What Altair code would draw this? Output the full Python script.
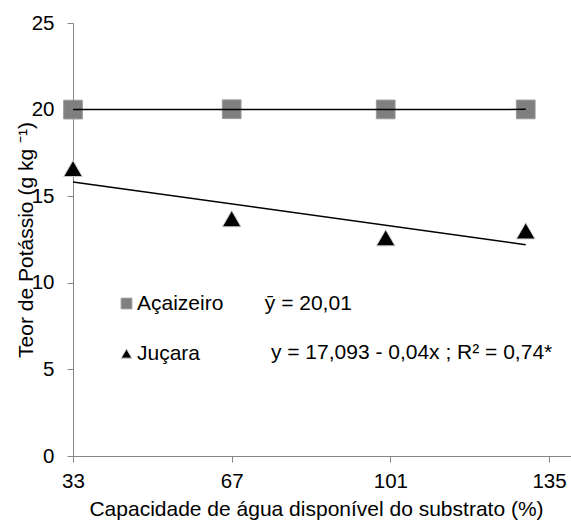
import altair as alt
import pandas as pd

# Potassium content per substrate water capacity, two palm species
capacidade = [33, 67, 100, 130]
acaizeiro = [20.0, 20.02, 20.01, 20.01]
jucara = [16.6, 13.7, 12.6, 13.0]
series = ["Açaizeiro", "Juçara"]

x_ticks = [33, 67, 101, 135]
y_ticks = [0, 5, 10, 15, 20, 25]

# Fitted-equation annotations (data coordinates of each text's left baseline)
eq_labels = ["ȳ = 20,01", "y = 17,093 - 0,04x ; R² = 0,74*"]
eq_x = [74.1, 75.4]
eq_y = [8.43, 5.6]

FONT = "Liberation Sans, Arial, sans-serif"
AXIS_GRAY = "#868686"

df = pd.DataFrame({
    "capacidade": capacidade * 2,
    "teor": acaizeiro + jucara,
    "serie": [series[0]] * len(capacidade) + [series[1]] * len(capacidade),
})
eq_df = pd.DataFrame({"x": eq_x, "y": eq_y, "label": eq_labels})

x_scale = alt.Scale(domain=[33, 139.7], nice=False, zero=False)
y_scale = alt.Scale(domain=[0, 25], nice=False, zero=True)

legend = alt.Legend(
    title=None,
    orient="none",
    legendX=43,
    legendY=270,
    padding=0,
    labelFont=FONT,
    labelFontSize=21,
    labelColor="black",
    labelOffset=0,
    symbolSize=115,
    symbolStrokeWidth=1,
    rowPadding=28,
)

points = alt.Chart(df).mark_point(filled=True, opacity=1, strokeWidth=1, size=350).encode(
    x=alt.X(
        "capacidade:Q",
        scale=x_scale,
        axis=alt.Axis(
            values=x_ticks,
            title="Capacidade de água disponível do substrato (%)",
            tickSize=6,
            labelPadding=9.5,
            labelFlush=False,
            labelOverlap=False,
            titleX=243,
            titleY=59,
            titleBaseline="alphabetic",
            titleAlign="center",
        ),
    ),
    y=alt.Y(
        "teor:Q",
        scale=y_scale,
        axis=alt.Axis(
            values=y_ticks,
            title="Teor de Potássio (g kg ⁻¹)",
            tickSize=6,
            labelPadding=13,
            labelFlush=False,
            labelOverlap=False,
            titleAngle=-90,
            titleX=-41,
            titleY=216.5,
            titleBaseline="alphabetic",
            titleAlign="center",
        ),
    ),
    shape=alt.Shape("serie:N", scale=alt.Scale(domain=series, range=["square", "triangle-up"]), legend=legend),
    fill=alt.Fill("serie:N", scale=alt.Scale(domain=series, range=["#7f7f7f", "#000000"]), legend=legend),
    stroke=alt.Stroke("serie:N", scale=alt.Scale(domain=series, range=["#9a9a9a", "#d0d0d0"]), legend=legend),
)

trend = alt.Chart(df).transform_regression(
    "capacidade", "teor", groupby=["serie"]
).mark_line(color="black", strokeWidth=1.5).encode(
    x=alt.X("capacidade:Q", scale=x_scale),
    y=alt.Y("teor:Q", scale=y_scale),
    detail="serie:N",
)

equations = alt.Chart(eq_df).mark_text(
    align="left", baseline="alphabetic", font=FONT, fontSize=21, color="black"
).encode(
    x=alt.X("x:Q", scale=x_scale),
    y=alt.Y("y:Q", scale=y_scale),
    text="label:N",
)

chart = alt.layer(points, trend, equations).properties(
    width=498,
    height=433,
    autosize="none",
    padding={"left": 73, "top": 23, "right": 0, "bottom": 64},
    background="white",
).configure_view(
    stroke=None
).configure_axis(
    grid=False,
    domainColor=AXIS_GRAY,
    tickColor=AXIS_GRAY,
    domainWidth=1,
    tickWidth=1,
    labelFont=FONT,
    labelFontSize=20.5,
    labelColor="black",
    titleFont=FONT,
    titleFontSize=21,
    titleFontWeight="normal",
    titleColor="black",
)

chart.save("out.html", embed_options={"renderer": "svg", "actions": False})
